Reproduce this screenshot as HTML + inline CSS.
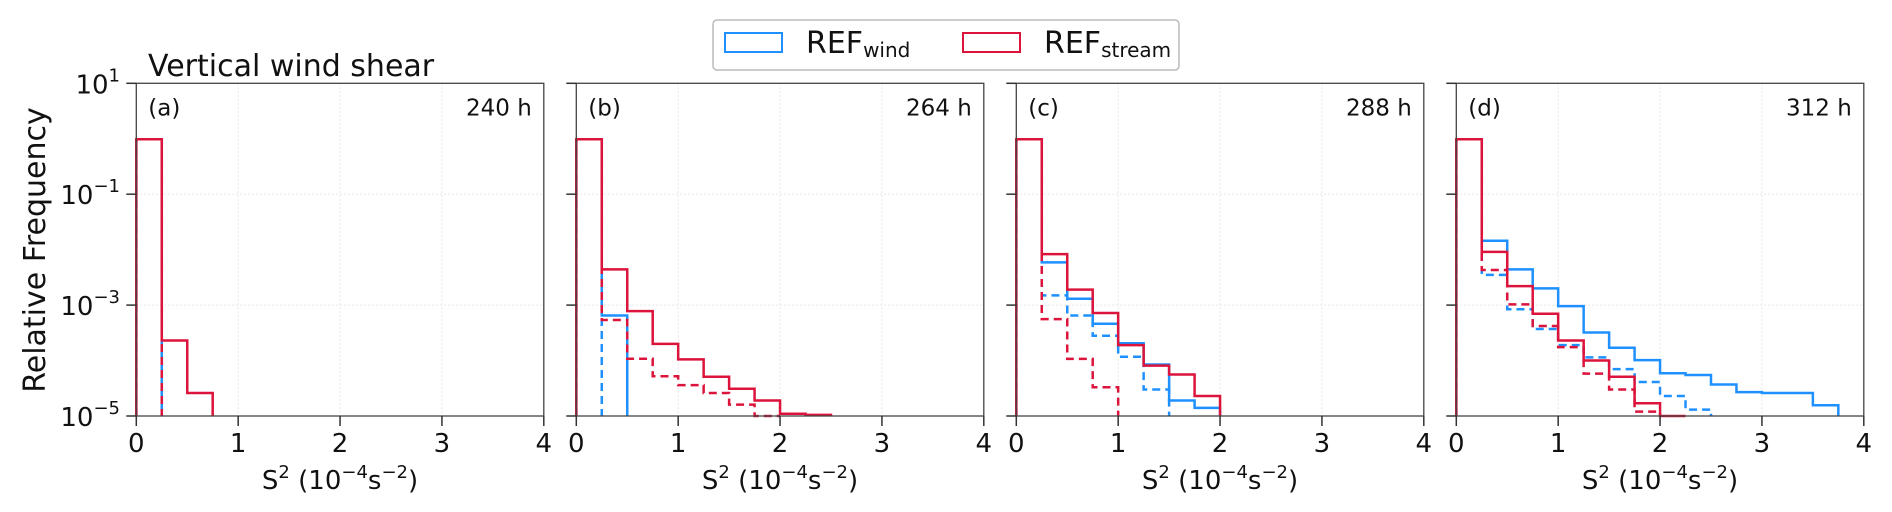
<!DOCTYPE html>
<html><head><meta charset="utf-8">
<style>
html,body{margin:0;padding:0;background:#fff;}
svg{display:block;font-family:"DejaVu Sans","Liberation Sans",sans-serif;}
</style></head>
<body>
<svg id="chart" width="1892" height="512" viewBox="0 0 1892 512" xmlns="http://www.w3.org/2000/svg">
  <text x="148" y="76" font-size="30" fill="#111">Vertical wind shear</text>
  <text transform="translate(45,250) rotate(-90)" text-anchor="middle" font-size="30" fill="#111">Relative Frequency</text>
  <g>
    <rect x="713" y="20" width="466" height="50" rx="4" fill="#fff" stroke="#bbb" stroke-width="1.5"/>
    <rect x="725" y="33" width="57" height="19" fill="none" stroke="#1e90ff" stroke-width="2"/>
    <text x="806" y="53" font-size="30" fill="#111">REF<tspan font-size="20" dy="4">wind</tspan></text>
    <rect x="963" y="33" width="57" height="19" fill="none" stroke="#dc143c" stroke-width="2"/>
    <text x="1044" y="53" font-size="30" fill="#111">REF<tspan font-size="20" dy="4">stream</tspan></text>
  </g>
  <g id="panels"></g>
</svg>
<script>
const panelLabels = ["(a)", "(b)", "(c)", "(d)"];
const panelTimes = ["240 h", "264 h", "288 h", "312 h"];
const xTicks = [0, 1, 2, 3, 4];
const yTickExps = [1, -1, -3, -5];
const binWidth = 0.25;
// relative frequency per 0.25 bin, starting at 0 (0 = empty bin, line ends)
const windSolid = [
  [0.98, 0],
  [0.98, 6.5e-4, 0],
  [0.98, 5.9e-3, 1.3e-3, 4.6e-4, 2.05e-4, 8.5e-5, 1.9e-5, 1.4e-5, 0],
  [0.98, 1.45e-2, 4.4e-3, 2.0e-3, 9.6e-4, 3.2e-4, 1.7e-4, 1.02e-4, 5.9e-5, 5.5e-5, 3.7e-5, 2.7e-5, 2.6e-5, 2.6e-5, 1.56e-5, 0]
];
const windDashed = [
  [0.98, 0],
  [0.98, 0],
  [0.98, 1.5e-3, 6.5e-4, 2.8e-4, 1.17e-4, 3.0e-5, 0],
  [0.98, 3.5e-3, 8.4e-4, 3.7e-4, 1.9e-4, 1.14e-4, 7.0e-5, 4.1e-5, 2.3e-5, 1.3e-5, 0]
];
const streamSolid = [
  [0.98, 2.3e-4, 2.6e-5, 0],
  [0.98, 4.4e-3, 7.8e-4, 2.0e-4, 1.05e-4, 5.1e-5, 3.1e-5, 1.9e-5, 1.1e-5, 1.05e-5, 0],
  [0.98, 8.3e-3, 1.9e-3, 7.2e-4, 1.9e-4, 8.1e-5, 5.6e-5, 2.3e-5, 0],
  [0.98, 9.1e-3, 2.2e-3, 7.0e-4, 2.3e-4, 1.0e-4, 5.1e-5, 1.7e-5, 1.0e-5, 0]
];
const streamDashed = [
  [0.98, 0],
  [0.98, 5.4e-4, 1.08e-4, 5.2e-5, 3.6e-5, 2.6e-5, 1.6e-5, 1.0e-5, 0],
  [0.98, 5.6e-4, 1.07e-4, 3.3e-5, 0],
  [0.98, 4.3e-3, 1.03e-3, 4.2e-4, 1.75e-4, 5.8e-5, 3.0e-5, 1.2e-5, 0]
];

const NS = "http://www.w3.org/2000/svg";
const root = document.getElementById("panels");
const PW = 407.5, TOP = 83.3, BOT = 416, XMAX = 4, YMIN = -5, YMAX = 1;
function mk(tag, attrs, parent) {
  const e = document.createElementNS(NS, tag);
  for (const k in attrs) e.setAttribute(k, attrs[k]);
  parent.appendChild(e);
  return e;
}
for (let p = 0; p < 4; p++) {
  const L = 136.3 + p * 440;
  const xs = v => L + v / XMAX * PW;
  const ys = v => v <= 0 ? BOT : BOT - (Math.log10(v) - YMIN) / (YMAX - YMIN) * (BOT - TOP);
  const ye = e => BOT - (e - YMIN) / (YMAX - YMIN) * (BOT - TOP);
  const g = mk("g", {}, root);
  
  
  xTicks.forEach(t => {
    const l = mk("line", {x1: xs(t), x2: xs(t), y1: TOP, y2: BOT, stroke: "#e6e6e6", "stroke-width": 1, "stroke-dasharray": "2,2"}, g);
    
    
  });
  yTickExps.forEach(e => {
    const l = mk("line", {x1: L, x2: L + PW, y1: ye(e), y2: ye(e), stroke: "#e6e6e6", "stroke-width": 1, "stroke-dasharray": "2,2"}, g);
    
    
  });
  const series = [
    [windSolid[p], "#1e90ff", null, "wind-solid-step"],
    [windDashed[p], "#1e90ff", "8,5", "wind-dashed-step"],
    [streamSolid[p], "#dc143c", null, "stream-solid-step"],
    [streamDashed[p], "#dc143c", "8,5", "stream-dashed-step"]
  ];
  series.forEach(([vals, col, dash, nm]) => {
    let d = "M" + xs(0) + "," + BOT;
    let end = 0;
    for (let i = 0; i < vals.length; i++) {
      const v = vals[i];
      if (v <= 0) break;
      d += " L" + xs(i * binWidth) + "," + ys(v) + " L" + xs((i + 1) * binWidth) + "," + ys(v);
      end = (i + 1) * binWidth;
    }
    d += " L" + xs(end) + "," + BOT;
    const a = {d: d, fill: "none", stroke: col, "stroke-width": 2.5, "stroke-linejoin": "miter"};
    if (dash) a["stroke-dasharray"] = dash;
    const path = mk("path", a, g);
    
    
  });
  const fr = mk("rect", {x: L, y: TOP, width: PW, height: BOT - TOP, fill: "none", stroke: "#444", "stroke-width": 1.3}, g);
  
  
  xTicks.forEach(t => {
    mk("line", {x1: xs(t), x2: xs(t), y1: BOT, y2: BOT + 10, stroke: "#333", "stroke-width": 1.5}, g);
    const tx = mk("text", {x: xs(t), y: BOT + 36, "text-anchor": "middle", "font-size": 26, fill: "#111"}, g);
    tx.textContent = t;
    
    
  });
  yTickExps.forEach(e => {
    mk("line", {x1: L - 10, x2: L, y1: ye(e), y2: ye(e), stroke: "#333", "stroke-width": 1.5}, g);
    if (p === 0) {
      const tx = mk("text", {x: 120, y: ye(e) + 10, "text-anchor": "end", "font-size": 26, fill: "#111"}, g);
      tx.innerHTML = '10<tspan font-size="18" dy="-12">' + (e < 0 ? "\u2212" + (-e) : e) + '</tspan>';
      
      
    }
  });
  const xt = mk("text", {x: L + PW / 2, y: BOT + 73, "text-anchor": "middle", "font-size": 26, fill: "#111"}, g);
  xt.innerHTML = 'S<tspan font-size="18" dy="-11">2</tspan><tspan dy="11"> (10</tspan><tspan font-size="18" dy="-11">\u22124</tspan><tspan dy="11">s</tspan><tspan font-size="18" dy="-11">\u22122</tspan><tspan dy="11">)</tspan>';
  
  
  const pl = mk("text", {x: L + 12, y: TOP + 32, "font-size": 23, fill: "#111"}, g);
  pl.textContent = panelLabels[p];
  
  
  const pt = mk("text", {x: L + PW - 12, y: TOP + 32, "text-anchor": "end", "font-size": 23, fill: "#111"}, g);
  pt.textContent = panelTimes[p];
  
  
}
</script>
</body></html>
